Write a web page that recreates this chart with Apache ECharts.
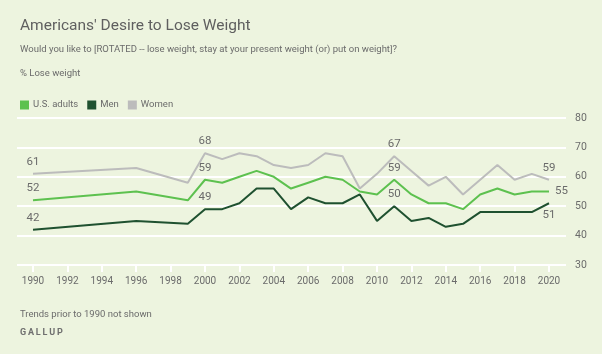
<!DOCTYPE html>
<html>
<head>
<meta charset="utf-8">
<script src="https://cdn.jsdelivr.net/npm/echarts@6/dist/echarts.min.js"></script>
<style>
  html, body { margin: 0; padding: 0; background: #edf4df; }
  #chart { width: 602px; height: 354px; }
</style>
</head>
<body>
<div id="chart"></div>
<script>
// years polled (gap between 1990 and 1996, 1996 and 1999)
var years = [1990, 1996, 1999, 2000, 2001, 2002, 2003, 2004, 2005, 2006, 2007, 2008, 2009, 2010,
             2011, 2012, 2013, 2014, 2015, 2016, 2017, 2018, 2019, 2020];
var adults = [52, 55, 52, 59, 58, 60, 62, 60, 56, 58, 60, 59, 55, 54,
              59, 54, 51, 51, 49, 54, 56, 54, 55, 55];
var men    = [42, 45, 44, 49, 49, 51, 56, 56, 49, 53, 51, 51, 54, 45,
              50, 45, 46, 43, 44, 48, 48, 48, 48, 51];
var women  = [61, 63, 58, 68, 66, 68, 67, 64, 63, 64, 68, 67, 56, 61,
              67, 62, 57, 60, 54, 59, 64, 59, 61, 59];
var labelled = [1990, 2000, 2011, 2020];

var txt = '#6b6b6b';

// label placement per series for the labelled years
function pts(vals, where) {
  return years.map(function (y, i) {
    var d = { value: [y, vals[i]] };
    var k = labelled.indexOf(y);
    if (k >= 0) {
      d.label = { show: true, position: where[k], distance: 6 };
    }
    return d;
  });
}

function line(name, color, vals, where) {
  return {
    name: name, type: 'line', xAxisIndex: 1, yAxisIndex: 1,
    symbol: 'circle', symbolSize: 0.1, showSymbol: true,
    color: color, lineStyle: { width: 2 },
    label: { color: txt, fontSize: 11.5 },
    emphasis: { disabled: true },
    data: pts(vals, where)
  };
}

var option = {
  backgroundColor: '#edf4df',
  animation: false,
  textStyle: { fontFamily: 'Roboto, "Noto Sans", sans-serif' },
  title: [
    { text: "Americans' Desire to Lose Weight", left: 15, top: 13,
      textStyle: { fontSize: 15.5, fontWeight: 'normal', color: '#5f5f5f' } },
    { text: 'Would you like to [ROTATED -- lose weight, stay at your present weight (or) put on weight]?',
      left: 15, top: 40, textStyle: { fontSize: 9.5, fontWeight: 'normal', color: txt } },
    { text: '% Lose weight', left: 15, top: 64,
      textStyle: { fontSize: 9.5, fontWeight: 'normal', color: txt } },
    { text: 'Trends prior to 1990 not shown', left: 15, top: 305,
      textStyle: { fontSize: 9.5, fontWeight: 'normal', color: txt } },
    { text: 'G\u2009A\u2009L\u2009L\u2009U\u2009P', left: 15, top: 323,
      textStyle: { fontSize: 9, fontWeight: 'bold', color: '#6f6f6f' } }
  ],
  legend: {
    left: 15, top: 95, itemWidth: 9, itemHeight: 9, itemGap: 9,
    icon: 'rect',
    textStyle: { fontSize: 9.5, color: txt, padding: [0, 0, 0, -1] },
    data: ['U.S. adults', 'Men', 'Women']
  },
  grid: [
    { left: 17, right: 36, top: 118, bottom: 89 },  // background gridlines
    { left: 33, right: 53, top: 118, bottom: 89 }   // data area
  ],
  xAxis: [
    { gridIndex: 0, type: 'value', min: 0, max: 1, show: false },
    { gridIndex: 1, type: 'value', min: 1990, max: 2020, interval: 2,
      axisLine: { show: false },
      axisTick: { show: true, length: 7, lineStyle: { color: '#ffffff', width: 2 } },
      axisLabel: { color: txt, fontSize: 10, margin: 11,
                   formatter: function (v) { return String(v); } },
      splitLine: { show: false } }
  ],
  yAxis: [
    { gridIndex: 0, type: 'value', position: 'right', min: 30, max: 80, interval: 10,
      axisLine: { show: false }, axisTick: { show: false },
      axisLabel: { color: txt, fontSize: 10.5, margin: 9 },
      splitLine: { lineStyle: { color: '#ffffff', width: 2 } } },
    { gridIndex: 1, type: 'value', min: 30, max: 80, interval: 10, show: false }
  ],
  series: [
    line('Women', '#bcbcbc', women, ['top', 'top', 'top', 'top']),
    line('U.S. adults', '#5dc14f', adults, ['top', 'top', 'top', 'right']),
    line('Men', '#1f5130', men, ['top', 'top', 'top', 'bottom'])
  ]
};

var chart = echarts.init(document.getElementById('chart'));
chart.setOption(option);
</script>
</body>
</html>
